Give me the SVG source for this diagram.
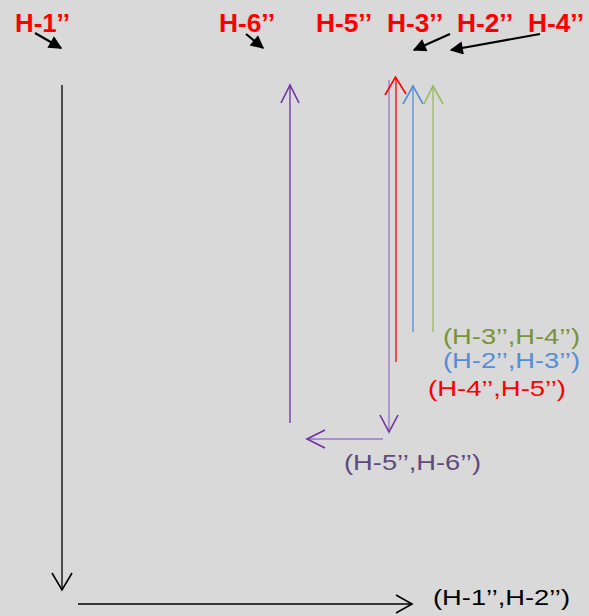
<svg xmlns="http://www.w3.org/2000/svg" width="589" height="616" viewBox="0 0 589 616">
<defs>
<style>
.lbl{font-family:"Liberation Sans",Arial,sans-serif;font-size:25px;font-weight:bold;fill:#ff0000}
.pair{font-family:"Liberation Sans",Arial,sans-serif;font-size:22px}
.ln{fill:none;stroke-width:1.3}
.hd{fill:none;stroke-width:1.6}
</style>
<marker id="blk" viewBox="0 0 10 10" refX="9" refY="5" markerWidth="7" markerHeight="6" orient="auto" markerUnits="strokeWidth">
<path d="M0,0 L10,5 L0,10 z" fill="#000"/>
</marker>
</defs>
<rect width="589" height="616" fill="#d9d9d9"/>

<g id="label-H1"><text class="lbl" x="15" y="32" textLength="55" lengthAdjust="spacingAndGlyphs">H-1’’</text></g>
<g id="label-H6"><text class="lbl" x="219" y="32" textLength="56" lengthAdjust="spacingAndGlyphs">H-6’’</text></g>
<g id="label-H5"><text class="lbl" x="316" y="32" textLength="56" lengthAdjust="spacingAndGlyphs">H-5’’</text></g>
<g id="label-H3"><text class="lbl" x="387" y="32" textLength="56" lengthAdjust="spacingAndGlyphs">H-3’’</text></g>
<g id="label-H2"><text class="lbl" x="457" y="32" textLength="56" lengthAdjust="spacingAndGlyphs">H-2’’</text></g>
<g id="label-H4"><text class="lbl" x="528" y="32" textLength="56" lengthAdjust="spacingAndGlyphs">H-4’’</text></g>

<g id="pointers" stroke="#000" stroke-width="2.2" fill="none">
<line x1="35" y1="33" x2="61" y2="48" marker-end="url(#blk)"/>
<line x1="246" y1="34" x2="263" y2="48" marker-end="url(#blk)"/>
<line x1="450" y1="34" x2="414" y2="50" marker-end="url(#blk)"/>
<line x1="540" y1="34" x2="451" y2="50" marker-end="url(#blk)"/>
</g>

<g id="connectors">
<line class="ln" stroke="#000" x1="62" y1="85" x2="62" y2="589"/>
<polyline class="hd" stroke="#000" points="52,573 62,590 72,573"/>
<line class="ln" stroke="#000" x1="78" y1="604" x2="411" y2="604"/>
<polyline class="hd" stroke="#000" points="396,595 412,604 396,613"/>
<line class="ln" stroke="#7030a0" x1="290" y1="423" x2="290" y2="86"/>
<polyline class="hd" stroke="#7030a0" points="281,103 290,85 299,103"/>
<line class="ln" stroke="#9a76c2" stroke-width="2" x1="389" y1="80" x2="389" y2="431"/>
<polyline class="hd" stroke="#7030a0" points="380,415 389,432 398,415"/>
<line class="ln" stroke="#9a76c2" stroke-width="2" x1="383" y1="439" x2="308" y2="439"/>
<polyline class="hd" stroke="#7030a0" points="325,430 307,439 325,448"/>
<line class="ln" stroke="#ff0000" x1="396" y1="78" x2="396" y2="362"/>
<polyline class="hd" stroke="#ff0000" stroke-width="2" points="385,95 395.5,77 406,94"/>
<line class="ln" stroke="#558ed5" x1="413" y1="87" x2="413" y2="332"/>
<polyline class="hd" stroke="#558ed5" stroke-width="2" points="403,104 413,86 423,104"/>
<line class="ln" stroke="#9bbb59" x1="433" y1="87" x2="433" y2="332"/>
<polyline class="hd" stroke="#9bbb59" stroke-width="2" points="424,104 433,86 443,104"/>
</g>

<g id="pair-34"><text class="pair" fill="#77933c" x="443" y="344" textLength="137" lengthAdjust="spacingAndGlyphs">(H-3’’,H-4’’)</text></g>
<g id="pair-23"><text class="pair" fill="#558ed5" x="443" y="368" textLength="137" lengthAdjust="spacingAndGlyphs">(H-2’’,H-3’’)</text></g>
<g id="pair-45"><text class="pair" fill="#ff0000" x="428" y="396" textLength="138" lengthAdjust="spacingAndGlyphs">(H-4’’,H-5’’)</text></g>
<g id="pair-56"><text class="pair" fill="#604a7b" x="344" y="470" textLength="137" lengthAdjust="spacingAndGlyphs">(H-5’’,H-6’’)</text></g>
<g id="pair-12"><text class="pair" fill="#000" x="433" y="605" textLength="137" lengthAdjust="spacingAndGlyphs">(H-1’’,H-2’’)</text></g>
</svg>
